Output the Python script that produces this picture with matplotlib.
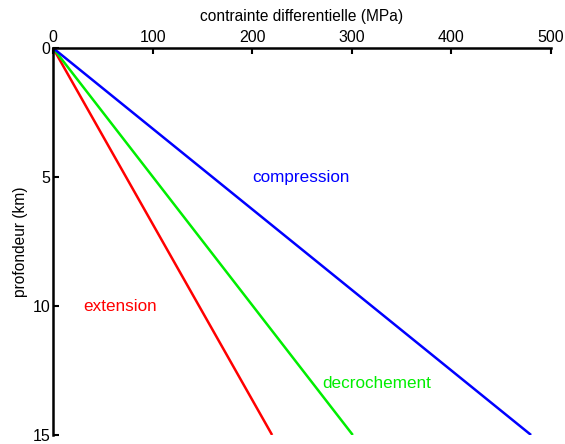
import matplotlib
matplotlib.use('Agg')
import matplotlib.pyplot as plt

# regimes de contrainte : profondeur (km) vs contrainte differentielle (MPa)
depth = [0, 15]
extension = [0, 220]
decrochement = [0, 301]
compression = [0, 480]

labels = ['extension', 'decrochement', 'compression']
label_pos = [(67, 10.0), (325, 13.0), (249, 5.0)]
colors = ['#ff0000', '#00ee00', '#0000ff']

x_ticks = [0, 100, 200, 300, 400, 500]
y_ticks = [0, 5, 10, 15]

plt.rcParams['font.family'] = ['Liberation Sans', 'DejaVu Sans']
plt.rcParams['font.size'] = 11

fig = plt.figure(figsize=(5.65, 4.44), dpi=100)
ax = fig.add_axes([53 / 565, 1 - 435 / 444, (551 - 53) / 565, (435 - 48) / 444])

for series, c in zip([extension, decrochement, compression], colors):
    ax.plot(series, depth, color=c, lw=1.8, solid_capstyle='butt')

for name, (x, y), c in zip(labels, label_pos, colors):
    ax.text(x, y, name, color=c, ha='center', va='center', fontsize=12.3)

ax.set_xlim(0, 500)
ax.set_ylim(15, 0)
ax.xaxis.tick_top()
ax.xaxis.set_label_position('top')
ax.set_xticks(x_ticks)
ax.set_yticks(y_ticks)
ax.set_xlabel('contrainte differentielle (MPa)', labelpad=7, fontsize=11.2)
ax.set_ylabel('profondeur (km)', labelpad=3, fontsize=11.2)
ax.tick_params(direction='in', length=4, width=1.5, pad=2, labelsize=11.5)
ax.spines['right'].set_visible(False)
ax.spines['bottom'].set_visible(False)
ax.spines['left'].set_linewidth(1.8)
ax.spines['top'].set_linewidth(1.8)

fig.savefig('out.png', dpi=100)
